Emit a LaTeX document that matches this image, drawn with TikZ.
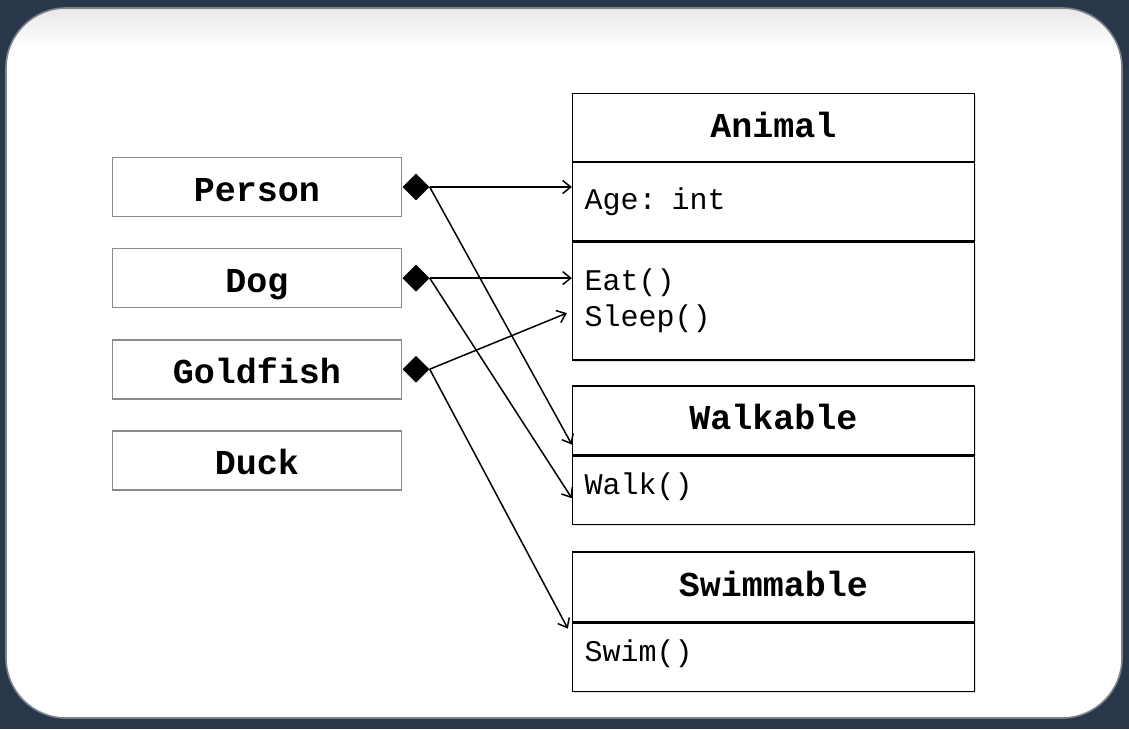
\documentclass[tikz,border=0pt]{standalone}
\usepackage{fontspec}
\setmonofont{Liberation Mono}
\usetikzlibrary{positioning,shapes.geometric,arrows.meta,shadows}
\definecolor{framebg}{HTML}{28374A}
\definecolor{panelline}{HTML}{7E828A}
\definecolor{boxline}{HTML}{8A8A8A}
\newcommand{\titlefont}{\fontsize{35}{40}\selectfont\ttfamily\bfseries}
\newcommand{\rowfont}{\fontsize{30}{36}\selectfont\ttfamily}
\tikzset{
    objbox/.style={draw=boxline, line width=1.6pt, fill=white, minimum width=289pt, minimum height=59pt,
        text height=30pt, text depth=1pt, font=\titlefont},
    clsbox/.style={draw=black, line width=1.3pt, fill=white, minimum width=402pt, inner xsep=12pt,
        drop shadow={shadow xshift=1.5pt, shadow yshift=-1.5pt, opacity=0.25}},
    clstitle/.style={clsbox, font=\titlefont, text height=24pt, text depth=5pt},
    clsrow/.style={clsbox, font=\rowfont, text width=378pt, align=left},
    owns/.style={diamond, fill=black, minimum width=27pt, minimum height=27pt, inner sep=0pt, anchor=west},
    link/.style={line width=1.5pt, -{Straight Barb[length=8pt,width=13pt]}}
}
\begin{document}
\begin{tikzpicture}[x=1pt,y=-1pt]
    \useasboundingbox (0,0) rectangle (1129,729);
    \fill[framebg] (0,0) rectangle (1129,729);
    \fill[white, rounded corners=60pt] (6,8) rectangle (1122,718);
    \begin{scope}
        \clip[rounded corners=60pt] (6,8) rectangle (1122,718);
        \shade[top color=gray!18, bottom color=white] (0,8) rectangle (1129,48);
    \end{scope}
    \draw[panelline, line width=1.6pt, rounded corners=60pt] (6,8) rectangle (1122,718);

    \node[objbox] (person) at (257,187) {Person};
    \node[objbox, below=30.5pt of person] (dog) {Dog};
    \node[objbox, below=30.5pt of dog] (goldfish) {Goldfish};
    \node[objbox, below=30.5pt of goldfish] (duck) {Duck};

    \node[clstitle, minimum height=68pt] (animaltitle) at (773.5,127.5) {Animal};
    \node[clsrow, minimum height=78pt, below=0pt of animaltitle] (animalattr) {Age: int};
    \node[clsrow, minimum height=118pt, below=0pt of animalattr] (animalops) {Eat()\\Sleep()};

    \node[clstitle, minimum height=69pt, below=24.5pt of animalops] (walktitle) {Walkable};
    \node[clsrow, minimum height=68pt, text depth=14pt, below=0pt of walktitle] (walkops) {Walk()};

    \node[clstitle, minimum height=70pt, below=26.5pt of walkops] (swimtitle) {Swimmable};
    \node[clsrow, minimum height=68pt, text depth=14pt, below=0pt of swimtitle] (swimops) {Swim()};

    \node[owns] (pdia) at (person.east) {};
    \node[owns] (ddia) at (dog.east) {};
    \node[owns] (gdia) at (goldfish.east) {};

    \coordinate (walkhead) at ([yshift=11pt]walktitle.south west);
    \coordinate (walkrow) at ([yshift=-8pt]walkops.west);
    \coordinate (sleeprow) at ([xshift=-5pt,yshift=-12pt]animalops.west);
    \coordinate (swimrow) at ([xshift=-4pt,yshift=-6pt]swimops.north west);

    \draw[link] (pdia.east) -- (pdia -| animalattr.west);
    \draw[link] (pdia.east) -- (walkhead);
    \draw[link] (ddia.east) -- (ddia -| animalops.west);
    \draw[link] (ddia.east) -- (walkrow);
    \draw[link] (gdia.east) -- (sleeprow);
    \draw[link] (gdia.east) -- (swimrow);
\end{tikzpicture}
\end{document}
